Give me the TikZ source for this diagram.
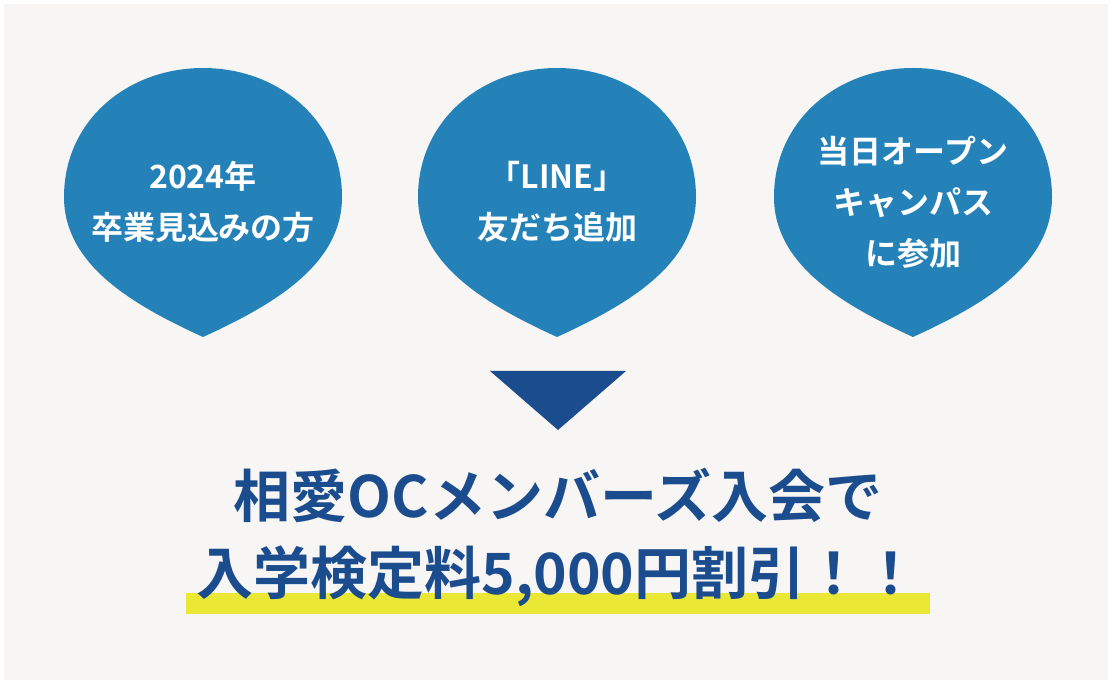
\documentclass[tikz,border=0pt]{standalone}
\usepackage{fontspec}
\setmainfont{Noto Sans CJK JP}[BoldFont={* Bold}]
\definecolor{bg}{HTML}{F7F6F4}
\definecolor{bub}{HTML}{2582B9}
\definecolor{dkb}{HTML}{1A4C8E}
\definecolor{ylw}{HTML}{EAE834}
\tikzset{bubtxt/.style={text=white,font=\bfseries\fontsize{32}{51}\selectfont,align=center},
big/.style={text=dkb,font=\bfseries\fontsize{57}{60}\selectfont}}
\newcommand{\bubble}[1]{%
\fill[bub] (#1,-337) .. controls (#1-70,-305) and (#1-139,-265) .. (#1-139,-197)
 .. controls (#1-139,-120) and (#1-75,-68) .. (#1,-68)
 .. controls (#1+75,-68) and (#1+139,-120) .. (#1+139,-197)
 .. controls (#1+139,-265) and (#1+70,-305) .. (#1,-337) -- cycle;}
\begin{document}
\begin{tikzpicture}[x=1pt,y=1pt]
\useasboundingbox (0,0) rectangle (1112,-684);
\fill[white] (0,0) rectangle (1112,-684);
\fill[bg] (4,-4) rectangle (1108,-680);
\bubble{203}\bubble{557}\bubble{913}
\node[bubtxt] (b1) at (203,-202) {2024年\\卒業見込みの方};
\node[bubtxt] (b2) at (557,-202) {「LINE」\\友だち追加};
\node[bubtxt] (b3) at (913,-202) {当日オープン\\キャンパス\\に参加};
\fill[dkb] (490,-371) -- (626,-371) -- (558,-430) -- cycle;
\fill[ylw] (186,-593) rectangle (930,-614);
\node[big] (l1) at (558,-495) {相愛OCメンバーズ入会で};
\node[big] (l2) at (558,-576) {入学検定料5,000円割引！！};
\end{tikzpicture}
\end{document}
